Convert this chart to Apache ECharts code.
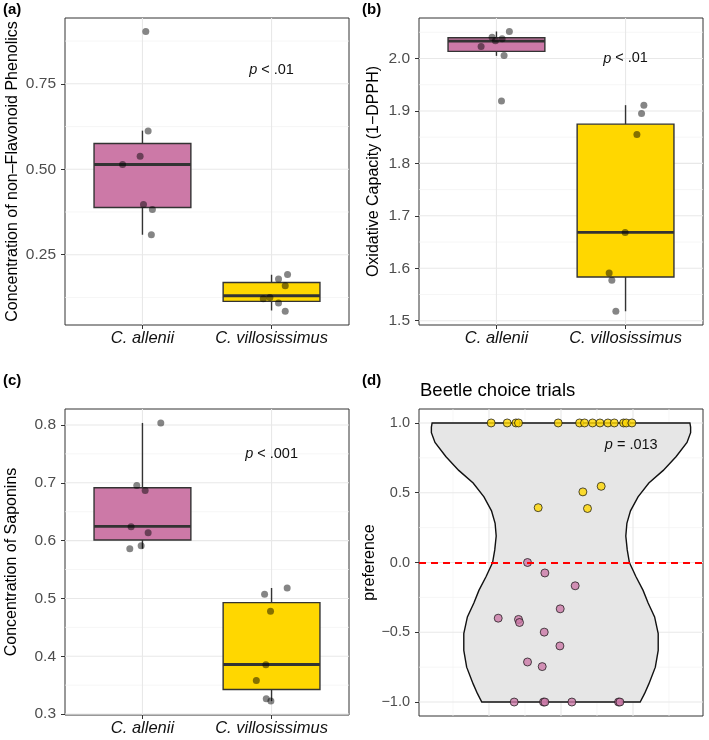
<!DOCTYPE html>
<html>
<head>
<meta charset="utf-8">
<title>Chemistry and beetle choice</title>
<script src="https://cdn.jsdelivr.net/npm/echarts@6.0.0/dist/echarts.min.js"></script>
<style>
html, body { margin: 0; padding: 0; background: #fff; }
#main { width: 709px; height: 740px; }
</style>
</head>
<body>
<div id="main"></div>
<script>
// ---- data ----
const species = ['C. allenii', 'C. villosissimus'];

// box stats per species: [lower whisker, Q1, median, Q3, upper whisker]
const phenolBox = [[0.3085, 0.388, 0.514, 0.5755, 0.613], [0.087, 0.1135, 0.130, 0.169, 0.1915]];
const oxidBox = [[2.005, 2.0135, 2.033, 2.0394, 2.0515], [1.518, 1.5832, 1.6684, 1.8748, 1.911]];
const saponBox = [[0.586, 0.601, 0.6245, 0.6913, 0.8035], [0.3224, 0.3426, 0.3857, 0.4928, 0.518]];

// jittered samples: [x jitter, value]
const phenolAllenii = [[0.026, 0.903], [0.044, 0.612], [-0.018, 0.538], [-0.154, 0.514], [0.008, 0.397], [0.077, 0.382], [0.069, 0.3085]];
const phenolVillos = [[0.124, 0.1925], [0.054, 0.179], [0.106, 0.159], [-0.064, 0.121], [-0.013, 0.125], [0.054, 0.109], [0.106, 0.085]];
const oxidAllenii = [[0.10, 2.0515], [-0.034, 2.0407], [0.044, 2.0375], [-0.008, 2.034], [-0.119, 2.023], [0.059, 2.0057], [0.039, 1.9187]];
const oxidVillos = [[0.142, 1.911], [0.124, 1.895], [0.088, 1.855], [-0.003, 1.668], [-0.127, 1.591], [-0.106, 1.577], [-0.075, 1.518]];
const saponAllenii = [[0.142, 0.8035], [-0.044, 0.6953], [0.021, 0.6867], [-0.088, 0.624], [0.044, 0.6136], [-0.010, 0.5911], [-0.098, 0.586]];
const saponVillos = [[0.121, 0.518], [-0.054, 0.5071], [-0.008, 0.4778], [-0.044, 0.3851], [-0.118, 0.3581], [-0.041, 0.3265], [-0.005, 0.3224]];

// beetle choice trials: [x jitter, preference]
const prefVillos = [[-0.97, 1], [-0.747, 1], [-0.626, 1], [-0.59, 1], [-0.039, 1], [0.258, 1], [0.327, 1], [0.438, 1],
  [0.541, 1], [0.652, 1], [0.74, 1], [0.869, 1], [0.906, 1], [0.985, 1],
  [-0.317, 0.393], [0.304, 0.506], [0.558, 0.546], [0.368, 0.387]];
const prefAllenii = [[-0.465, 0.0], [-0.224, -0.075], [0.197, -0.167], [-0.011, -0.332], [-0.872, -0.399], [-0.59, -0.408],
  [-0.576, -0.43], [-0.233, -0.499], [-0.015, -0.598], [-0.465, -0.713], [-0.261, -0.746],
  [-0.65, -1], [-0.243, -1], [-0.224, -1], [0.151, -1], [0.799, -1], [0.818, -1]];

// violin outline: half width at each preference level
const violinY = [-1.0, -0.94, -0.87, -0.75, -0.63, -0.51, -0.39, -0.29, -0.20, -0.10, 0.0, 0.09, 0.19, 0.28, 0.37, 0.47, 0.57, 0.66, 0.76, 0.86, 0.93, 0.97, 1.0];
const violinHalf = [1.10, 1.16, 1.22, 1.31, 1.35, 1.35, 1.30, 1.21, 1.14, 1.04, 0.95, 0.92, 0.90, 0.915, 0.965, 1.07, 1.22, 1.42, 1.60, 1.75, 1.80, 1.80, 1.79];

// tick labels
const phenolTicks = [0.25, 0.50, 0.75];
const phenolMinor = [0.125, 0.375, 0.625, 0.875];
const oxidTicks = [1.5, 1.6, 1.7, 1.8, 1.9, 2.0];
const oxidMinor = [1.55, 1.65, 1.75, 1.85, 1.95, 2.05];
const saponTicks = [0.3, 0.4, 0.5, 0.6, 0.7, 0.8];
const saponMinor = [0.35, 0.45, 0.55, 0.65, 0.75];
const prefTicks = [-1.0, -0.5, 0.0, 0.5, 1.0];
const prefMinor = [-0.75, -0.25, 0.25, 0.75];
const prefXMajor = [-1, 0, 1];
const prefXMinor = [-1.5, -0.5, 0.5, 1.5];

// p-value notes: [x, y] and text after the italic p
const notes = [' < .01', ' < .01', ' < .001', ' = .013'];
const notePos = [[2, 0.79], [2, 2.0], [2, 0.75], [0.975, 0.843]];

// ---- drawing ----
const FONT = "'Liberation Sans', Helvetica, Arial, sans-serif";
const boxFill = ['#CC79A7', '#FFD700'];
const boxWidth = 0.75;

function renderGridLine(params, api) {
  const cs = params.coordSys;
  const kind = api.value(0), v = api.value(1), major = api.value(2);
  const style = { stroke: major ? '#e8e8e8' : '#f2f2f2', lineWidth: major ? 1.1 : 0.7 };
  if (kind === 0) {
    const x = api.coord([v, 0])[0];
    return { type: 'line', shape: { x1: x, y1: cs.y, x2: x, y2: cs.y + cs.height }, style: style };
  }
  const y = api.coord([0, v])[1];
  return { type: 'line', shape: { x1: cs.x, y1: y, x2: cs.x + cs.width, y2: y }, style: style };
}

function gridSeries(idx, xMajor, xMinor, yMajor, yMinor) {
  const data = [];
  xMinor.forEach(v => data.push([0, v, 0]));
  yMinor.forEach(v => data.push([1, v, 0]));
  xMajor.forEach(v => data.push([0, v, 1]));
  yMajor.forEach(v => data.push([1, v, 1]));
  return { type: 'custom', xAxisIndex: idx, yAxisIndex: idx, silent: true, z: 0, renderItem: renderGridLine, data: data };
}

function renderBox(params, api) {
  const x = api.value(0);
  const lo = api.coord([x, api.value(1)]);
  const q1 = api.coord([x, api.value(2)]);
  const md = api.coord([x, api.value(3)]);
  const q3 = api.coord([x, api.value(4)]);
  const hi = api.coord([x, api.value(5)]);
  const half = api.size([boxWidth / 2, 0])[0];
  const edge = '#333333';
  return {
    type: 'group',
    children: [
      { type: 'line', shape: { x1: lo[0], y1: lo[1], x2: q1[0], y2: q1[1] }, style: { stroke: edge, lineWidth: 1.4 } },
      { type: 'line', shape: { x1: q3[0], y1: q3[1], x2: hi[0], y2: hi[1] }, style: { stroke: edge, lineWidth: 1.4 } },
      { type: 'rect', shape: { x: q3[0] - half, y: q3[1], width: half * 2, height: q1[1] - q3[1] },
        style: { fill: boxFill[api.value(6)], stroke: edge, lineWidth: 1.4 } },
      { type: 'line', shape: { x1: md[0] - half, y1: md[1], x2: md[0] + half, y2: md[1] }, style: { stroke: edge, lineWidth: 2.8 } }
    ]
  };
}

function boxSeries(idx, stats) {
  return {
    type: 'custom', xAxisIndex: idx, yAxisIndex: idx, z: 2, renderItem: renderBox,
    encode: { x: 0, y: [1, 2, 3, 4, 5] },
    data: stats.map((s, i) => [i + 1].concat(s, [i]))
  };
}

function jitterSeries(idx, a, v) {
  const pts = a.map(p => [1 + p[0], p[1]]).concat(v.map(p => [2 + p[0], p[1]]));
  return {
    type: 'scatter', xAxisIndex: idx, yAxisIndex: idx, z: 4, symbolSize: 7,
    itemStyle: { color: 'rgba(0,0,0,0.6)' }, data: pts
  };
}

function renderNote(params, api) {
  const p = api.coord([api.value(0), api.value(1)]);
  return {
    type: 'text', x: p[0], y: p[1],
    style: {
      text: '{i|p}' + notes[api.value(2)], align: 'center', verticalAlign: 'middle',
      fill: '#111', fontSize: 14.5, fontFamily: FONT,
      rich: { i: { fontStyle: 'italic', fontSize: 14.5, fontFamily: FONT, fill: '#111' } }
    }
  };
}

function noteSeries(idx) {
  return { type: 'custom', xAxisIndex: idx, yAxisIndex: idx, z: 5, silent: true, renderItem: renderNote,
    data: [notePos[idx].concat([idx])] };
}

function yAx(idx, min, max, ticks, digits, name, gap, fs) {
  return {
    type: 'value', gridIndex: idx, min: min, max: max,
    name: name, nameLocation: 'middle', nameGap: gap,
    nameTextStyle: { color: '#000', fontSize: 16, fontFamily: FONT },
    splitLine: { show: false },
    axisLine: { show: false, onZero: false },
    axisTick: { show: true, length: 4, customValues: ticks, lineStyle: { color: '#333', width: 1 } },
    axisLabel: { customValues: ticks, color: '#4d4d4d', fontSize: fs, fontFamily: FONT, margin: 9,
      formatter: v => Number(v).toFixed(digits).replace('-', '\u2212') }
  };
}

function xCat(idx) {
  return {
    type: 'value', gridIndex: idx, min: 0.4, max: 2.6,
    splitLine: { show: false },
    axisLine: { show: false, onZero: false },
    axisTick: { show: true, length: 4, customValues: [1, 2], lineStyle: { color: '#333', width: 1 } },
    axisLabel: { customValues: [1, 2], color: '#111', fontSize: 16.5, fontStyle: 'italic', fontFamily: FONT, margin: 5,
      formatter: v => species[Math.round(v) - 1] }
  };
}

const gridBase = { show: true, borderColor: '#333', borderWidth: 1, backgroundColor: '#fff', containLabel: false, outerBoundsMode: 'none' };

const chart = echarts.init(document.getElementById('main'), null, { renderer: 'canvas' });
const option = {
  animation: false,
  backgroundColor: '#fff',
  textStyle: { fontFamily: FONT },
  title: {
    text: 'Beetle choice trials', left: 420, top: 381, padding: 0,
    textStyle: { fontSize: 18.5, fontWeight: 'normal', color: '#000', fontFamily: FONT }
  },
  graphic: [
    { type: 'text', left: 3, top: 2, style: { text: '(a)', fontSize: 15, fontWeight: 'bold', fill: '#000', fontFamily: FONT } },
    { type: 'text', left: 362, top: 2, style: { text: '(b)', fontSize: 15, fontWeight: 'bold', fill: '#000', fontFamily: FONT } },
    { type: 'text', left: 3, top: 373, style: { text: '(c)', fontSize: 15, fontWeight: 'bold', fill: '#000', fontFamily: FONT } },
    { type: 'text', left: 362, top: 373, style: { text: '(d)', fontSize: 15, fontWeight: 'bold', fill: '#000', fontFamily: FONT } }
  ],
  grid: [
    Object.assign({ left: 65, top: 18, width: 284, height: 307 }, gridBase),
    Object.assign({ left: 419, top: 18, width: 284, height: 307 }, gridBase),
    Object.assign({ left: 65, top: 409, width: 284, height: 306 }, gridBase),
    Object.assign({ left: 419, top: 409, width: 284, height: 307 }, gridBase)
  ],
  xAxis: [
    xCat(0), xCat(1), xCat(2),
    { type: 'value', gridIndex: 3, min: -1.972, max: 1.972, splitLine: { show: false },
      axisLine: { show: false, onZero: false }, axisTick: { show: false }, axisLabel: { show: false } }
  ],
  yAxis: [
    yAx(0, 0.0445, 0.9425, phenolTicks, 2, 'Concentration of non\u2013Flavonoid Phenolics', 44, 15.5),
    yAx(1, 1.4918, 2.0772, oxidTicks, 1, 'Oxidative Capacity (1\u2212DPPH)', 37, 15.5),
    yAx(2, 0.2984, 0.8276, saponTicks, 1, 'Concentration of Saponins', 45, 15.5),
    yAx(3, -1.1, 1.1, prefTicks, 1, 'preference', 35, 14.5)
  ],
  series: [
    gridSeries(0, [1, 2], [], phenolTicks, phenolMinor),
    gridSeries(1, [1, 2], [], oxidTicks, oxidMinor),
    gridSeries(2, [1, 2], [], saponTicks, saponMinor),
    gridSeries(3, prefXMajor, prefXMinor, prefTicks, prefMinor),
    boxSeries(0, phenolBox),
    boxSeries(1, oxidBox),
    boxSeries(2, saponBox),
    jitterSeries(0, phenolAllenii, phenolVillos),
    jitterSeries(1, oxidAllenii, oxidVillos),
    jitterSeries(2, saponAllenii, saponVillos),
    {
      type: 'custom', xAxisIndex: 3, yAxisIndex: 3, z: 2, silent: true,
      data: [[0, 0]],
      renderItem: function (params, api) {
        const right = violinY.map((y, i) => api.coord([violinHalf[i], y]));
        const left = violinY.map((y, i) => api.coord([-violinHalf[i], y])).reverse();
        return { type: 'polygon', shape: { points: right.concat(left) },
          style: { fill: '#e6e6e6', stroke: '#111', lineWidth: 1.4 } };
      },
      markLine: {
        silent: true, symbol: 'none', label: { show: false },
        lineStyle: { color: '#ff0000', type: [7, 5], width: 1.8 },
        data: [{ yAxis: 0 }]
      }
    },
    {
      type: 'scatter', xAxisIndex: 3, yAxisIndex: 3, z: 4, symbolSize: 8,
      itemStyle: { color: '#CC79A7', borderColor: '#111', borderWidth: 0.9 },
      data: prefAllenii
    },
    {
      type: 'scatter', xAxisIndex: 3, yAxisIndex: 3, z: 4, symbolSize: 8,
      itemStyle: { color: '#FFD700', borderColor: '#111', borderWidth: 0.9 },
      data: prefVillos
    },
    noteSeries(0), noteSeries(1), noteSeries(2), noteSeries(3)
  ]
};
chart.setOption(option);
</script>
</body>
</html>
